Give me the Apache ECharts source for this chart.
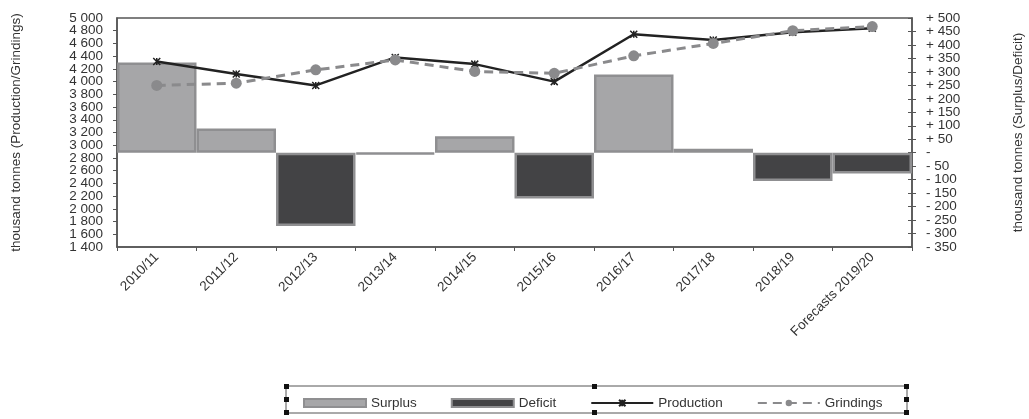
<!DOCTYPE html>
<html>
<head>
<meta charset="utf-8">
<script src="https://cdn.jsdelivr.net/npm/echarts@6/dist/echarts.min.js"></script>
<style>
html,body{margin:0;padding:0;background:#fff;}
#chart{width:1029px;height:419px;}
</style>
</head>
<body>
<div id="chart"></div>
<script>
var categories = ['2010/11','2011/12','2012/13','2013/14','2014/15','2015/16','2016/17','2017/18','2018/19','Forecasts 2019/20'];
var production = [4315, 4120, 3940, 4380, 4275, 4000, 4745, 4655, 4775, 4840];
var grindings  = [3940, 3975, 4185, 4340, 4160, 4130, 4405, 4600, 4800, 4865];
var surplus = [335, 90, '-', '-', 61, '-', 290, 15, '-', '-'];
var deficit = ['-', '-', -272, -5, '-', -170, '-', '-', -105, -77];
var leftRange = [1400, 5000, 200];
var rightRange = [-350, 500, 50];

var FONT = '"Liberation Sans", Arial, sans-serif';
var TXT = '#333';
var AX = '#555';
var LFS = 13.5;

function leftText(v){
  var t = Math.floor(v/1000), r = v % 1000;
  return (t > 0 ? t + ' ' + String(r).padStart(3,'0') : String(r));
}
function rightText(v){
  return v === 0 ? '-' : (v > 0 ? '+ ' + v : '- ' + (-v));
}
function onlyEnds(fn, range){
  return function(v){ return (v === range[0] || v === range[1]) ? fn(v) : ''; };
}
var lbl = {fontSize:LFS, color:TXT, fontFamily:FONT, margin:14, hideOverlap:false};

function axisBase(range, pos){
  return {type:'value', min:range[0], max:range[1], interval:range[2], position:pos, splitLine:{show:false}};
}

var chart = echarts.init(document.getElementById('chart'));
var handles = [];
var hs = [[284,384],[592,384],[904,384],[284,397],[904,397],[284,410],[592,410],[904,410]];
hs.forEach(function(p){
  handles.push({type:'rect', shape:{x:p[0],y:p[1],width:5,height:5}, style:{fill:'#111'}, z:20});
});

chart.setOption({
  backgroundColor:'#fff',
  animation:false,
  textStyle:{fontFamily:FONT},
  grid:{left:117, right:117, top:18, bottom:172, containLabel:false, outerBoundsMode:'none',
    show:true, borderColor:AX, borderWidth:1.5, backgroundColor:'transparent'},
  legend:{
    left:298, top:391, itemWidth:62, itemHeight:8, itemGap:34,
    textStyle:{fontFamily:FONT, fontSize:LFS, color:TXT},
    data:[{name:'Surplus', icon:'rect'},{name:'Deficit', icon:'rect'},'Production','Grindings']
  },
  graphic: [{type:'rect', shape:{x:286,y:386,width:621,height:27}, style:{fill:'none', stroke:'#555', lineWidth:1}, z:19}].concat(handles),
  xAxis:{
    type:'category', data:categories, boundaryGap:true,
    axisLine:{onZero:false, lineStyle:{color:AX, width:1.5}},
    axisTick:{show:true, length:4, lineStyle:{color:AX}},
    axisLabel:{rotate:45, fontSize:LFS, color:TXT, fontFamily:FONT, margin:8}
  },
  yAxis:[
    Object.assign(axisBase(leftRange,'left'), {
      name:'thousand tonnes (Production/Grindings)', nameLocation:'middle', nameGap:94,
      nameTextStyle:{fontSize:LFS, color:TXT, fontFamily:FONT},
      axisLine:{show:true, onZero:false, lineStyle:{color:AX, width:1.5}},
      axisTick:{show:true, length:4, lineStyle:{color:AX}},
      axisLabel:Object.assign({}, lbl, {formatter:leftText, showMinLabel:false, showMaxLabel:false})
    }),
    Object.assign(axisBase(rightRange,'right'), {
      name:'thousand tonnes (Surplus/Deficit)', nameLocation:'middle', nameGap:99, nameRotate:90,
      nameTextStyle:{fontSize:LFS, color:TXT, fontFamily:FONT},
      axisLine:{show:true, onZero:false, lineStyle:{color:AX, width:1.5}},
      axisTick:{show:true, length:4, lineStyle:{color:AX}},
      axisLabel:Object.assign({}, lbl, {formatter:rightText, showMinLabel:false, showMaxLabel:false})
    }),
    Object.assign(axisBase(rightRange,'right'), {
      axisLine:{show:false, onZero:false},
      axisTick:{show:true, inside:true, length:4, lineStyle:{color:AX}},
      axisLabel:{show:false}
    }),
    Object.assign(axisBase(leftRange,'left'), {
      axisLine:{show:false, onZero:false}, axisTick:{show:false},
      axisLabel:Object.assign({}, lbl, {formatter:onlyEnds(leftText, leftRange), showMinLabel:true, showMaxLabel:true})
    }),
    Object.assign(axisBase(rightRange,'right'), {
      axisLine:{show:false, onZero:false}, axisTick:{show:false},
      axisLabel:Object.assign({}, lbl, {formatter:onlyEnds(rightText, rightRange), showMinLabel:true, showMaxLabel:true})
    })
  ],
  series:[{
    name:'Surplus', type:'bar', yAxisIndex:1, data:surplus,
    barGap:'-100%', barCategoryGap:'0%',
    itemStyle:{color:'#a6a6a8', borderColor:'#8f8f91', borderWidth:2.5}
  },{
    name:'Deficit', type:'bar', yAxisIndex:1, data:deficit,
    barGap:'-100%', barCategoryGap:'0%',
    itemStyle:{color:'#434345', borderColor:'#8f8f91', borderWidth:2.5}
  },{
    name:'Production', type:'line', yAxisIndex:0, data:production, z:4,
    symbol:'path://M0,0L10,10M10,0L0,10M5,0L5,10', symbolSize:7,
    lineStyle:{color:'#222', width:2.5},
    itemStyle:{color:'#222', borderColor:'#222', borderWidth:1.5}
  },{
    name:'Grindings', type:'line', yAxisIndex:0, data:grindings, z:5,
    symbol:'circle', symbolSize:11,
    lineStyle:{color:'#8a8a8c', width:3, type:[9,6]},
    itemStyle:{color:'#8a8a8c'}
  }]
});
</script>
</body>
</html>
